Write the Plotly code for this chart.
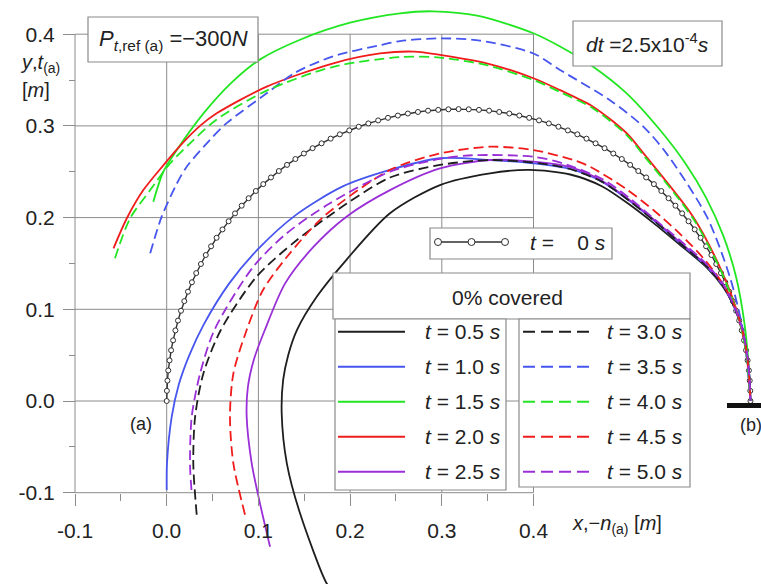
import plotly.graph_objects as go

W, H = 761, 584
FONT = "Liberation Sans, Arial, sans-serif"
TXT = "#222222"
GRID = "#8c8c8c"

# ---------------- data (x, y in m) ----------------
T00_X = [0.0000, 0.0002, 0.0008, 0.0017, 0.0031, 0.0048, 0.0070, 0.0095, 0.0123, 0.0156,
         0.0192, 0.0232, 0.0275, 0.0322, 0.0373, 0.0426, 0.0484, 0.0544, 0.0608, 0.0675,
         0.0745, 0.0818, 0.0893, 0.0972, 0.1053, 0.1137, 0.1223, 0.1312, 0.1403, 0.1496,
         0.1591, 0.1689, 0.1788, 0.1888, 0.1991, 0.2094, 0.2199, 0.2306, 0.2413, 0.2521,
         0.2630, 0.2740, 0.2850, 0.2961, 0.3072, 0.3183, 0.3294, 0.3405, 0.3516, 0.3626,
         0.3736, 0.3845, 0.3953, 0.4060, 0.4167, 0.4272, 0.4375, 0.4478, 0.4578, 0.4677,
         0.4775, 0.4870, 0.4963, 0.5054, 0.5143, 0.5229, 0.5313, 0.5394, 0.5473, 0.5548,
         0.5621, 0.5691, 0.5758, 0.5822, 0.5882, 0.5940, 0.5993, 0.6044, 0.6091, 0.6134,
         0.6174, 0.6210, 0.6243, 0.6271, 0.6296, 0.6318, 0.6335, 0.6349, 0.6358, 0.6364,
         0.6366]
T00_Y = [0.0000, 0.0111, 0.0222, 0.0333, 0.0443, 0.0553, 0.0662, 0.0770, 0.0877, 0.0984,
         0.1089, 0.1192, 0.1295, 0.1395, 0.1494, 0.1592, 0.1687, 0.1780, 0.1871, 0.1960,
         0.2046, 0.2130, 0.2211, 0.2290, 0.2365, 0.2438, 0.2508, 0.2575, 0.2639, 0.2699,
         0.2757, 0.2810, 0.2861, 0.2908, 0.2951, 0.2991, 0.3027, 0.3060, 0.3088, 0.3113,
         0.3135, 0.3152, 0.3166, 0.3175, 0.3181, 0.3183, 0.3181, 0.3175, 0.3166, 0.3152,
         0.3135, 0.3113, 0.3088, 0.3060, 0.3027, 0.2991, 0.2951, 0.2908, 0.2861, 0.2810,
         0.2757, 0.2699, 0.2639, 0.2575, 0.2508, 0.2438, 0.2365, 0.2290, 0.2211, 0.2130,
         0.2046, 0.1960, 0.1871, 0.1780, 0.1687, 0.1592, 0.1494, 0.1395, 0.1295, 0.1192,
         0.1089, 0.0984, 0.0877, 0.0770, 0.0662, 0.0553, 0.0443, 0.0333, 0.0222, 0.0111,
         0.0000]

T05_X = [0.180, 0.1745, 0.1454, 0.131, 0.1254, 0.127, 0.1325, 0.142, 0.1636, 0.196, 0.2435, 0.298,
         0.3526, 0.396, 0.44, 0.475, 0.505, 0.531, 0.560, 0.589, 0.607, 0.620, 0.628, 0.633, 0.6355, 0.6366]
T05_Y = [-0.205, -0.199, -0.1225, -0.068, -0.0134, 0.023, 0.050, 0.0774, 0.1137, 0.154, 0.2047, 0.2355,
         0.2483, 0.252, 0.247, 0.234, 0.214, 0.194, 0.170, 0.1455, 0.124, 0.100, 0.077, 0.050, 0.025, 0.0]

T10_X = [0.0, 0.0003, 0.0055, 0.0132, 0.0247, 0.0402, 0.068, 0.099, 0.141, 0.192, 0.2435, 0.298,
         0.3526, 0.40, 0.44, 0.475, 0.505, 0.531, 0.560, 0.589, 0.607, 0.620, 0.628, 0.633, 0.6355, 0.6366]
T10_Y = [-0.097, -0.068, -0.017, 0.018, 0.050, 0.083, 0.128, 0.165, 0.203, 0.234, 0.252, 0.2647,
         0.2628, 0.2592, 0.253, 0.239, 0.218, 0.197, 0.172, 0.1465, 0.125, 0.100, 0.077, 0.050, 0.025, 0.0]

T15_X = [-0.0146, -0.0037, 0.011, 0.041, 0.071, 0.101, 0.1454, 0.20, 0.2545, 0.29, 0.34, 0.40,
         0.429, 0.465, 0.5016, 0.538, 0.565, 0.588, 0.607, 0.621, 0.630, 0.6345, 0.6366]
T15_Y = [0.2174, 0.250, 0.2737, 0.3147, 0.3475, 0.372, 0.394, 0.4125, 0.4228, 0.425, 0.420, 0.401,
         0.3865, 0.3646, 0.3355, 0.2955, 0.260, 0.222, 0.180, 0.135, 0.085, 0.040, 0.0]

T20_X = [-0.058, -0.0436, -0.0255, -0.0037, 0.018, 0.0363, 0.0545, 0.109, 0.1817, 0.2326, 0.27,
         0.298, 0.35, 0.40, 0.429, 0.465, 0.5016, 0.52, 0.574, 0.603, 0.6215, 0.6316, 0.6366]
T20_Y = [0.1665, 0.199, 0.230, 0.257, 0.282, 0.300, 0.3137, 0.3428, 0.3683, 0.379, 0.381,
         0.3775, 0.368, 0.352, 0.339, 0.321, 0.292, 0.270, 0.201, 0.1465, 0.099, 0.056, 0.0]

T25_X = [0.1127, 0.1017, 0.0927, 0.0872, 0.0885, 0.095, 0.107, 0.129, 0.16, 0.196, 0.2435, 0.298, 0.3526,
         0.40, 0.44, 0.475, 0.505, 0.531, 0.560, 0.589, 0.607, 0.620, 0.628, 0.633, 0.6355, 0.6366]
T25_Y = [-0.159, -0.1116, -0.068, -0.017, 0.015, 0.045, 0.0774, 0.128, 0.168, 0.201, 0.230, 0.2537, 0.2628,
         0.261, 0.255, 0.240, 0.219, 0.198, 0.173, 0.1475, 0.126, 0.101, 0.077, 0.050, 0.025, 0.0]

T30_X = [0.0327, 0.029, 0.031, 0.040, 0.059, 0.098, 0.142, 0.196, 0.2435, 0.298, 0.3526, 0.407,
         0.44, 0.475, 0.505, 0.531, 0.560, 0.589, 0.607, 0.620, 0.628, 0.633, 0.6355, 0.6366]
T30_Y = [-0.124, -0.068, -0.017, 0.030, 0.0774, 0.1356, 0.1756, 0.215, 0.2437, 0.2574, 0.2628, 0.2592,
         0.253, 0.239, 0.218, 0.197, 0.172, 0.1465, 0.125, 0.100, 0.077, 0.050, 0.025, 0.0]

T35_X = [-0.018, -0.0055, 0.011, 0.0218, 0.047, 0.0654, 0.109, 0.14, 0.1817, 0.2326, 0.2545, 0.298,
         0.3417, 0.40, 0.429, 0.4834, 0.52, 0.545, 0.589, 0.614, 0.629, 0.6366]
T35_Y = [0.161, 0.201, 0.237, 0.2555, 0.2846, 0.303, 0.3355, 0.358, 0.376, 0.388, 0.3925, 0.3955,
         0.393, 0.379, 0.361, 0.328, 0.299, 0.270, 0.201, 0.1356, 0.074, 0.0]

T40_X = [-0.0564, -0.040, -0.018, 0.0036, 0.0254, 0.0545, 0.109, 0.1817, 0.2545, 0.298, 0.35, 0.40,
         0.429, 0.465, 0.5016, 0.52, 0.574, 0.603, 0.6215, 0.6316, 0.6366]
T40_Y = [0.1556, 0.199, 0.230, 0.259, 0.281, 0.307, 0.3385, 0.3645, 0.375, 0.3745, 0.366, 0.350,
         0.337, 0.319, 0.290, 0.268, 0.199, 0.145, 0.098, 0.055, 0.0]

T45_X = [0.0854, 0.0727, 0.069, 0.0727, 0.0872, 0.105, 0.131, 0.171, 0.2435, 0.298, 0.3526, 0.40,
         0.4434, 0.4616, 0.50, 0.531, 0.560, 0.585, 0.605, 0.620, 0.630, 0.6345, 0.6366]
T45_Y = [-0.124, -0.068, -0.017, 0.030, 0.0774, 0.121, 0.157, 0.201, 0.252, 0.270, 0.2773, 0.2737,
         0.2628, 0.2555, 0.232, 0.208, 0.182, 0.156, 0.130, 0.102, 0.068, 0.035, 0.0]

T50_X = [0.027, 0.0254, 0.0273, 0.0364, 0.052, 0.0945, 0.131, 0.178, 0.2435, 0.298, 0.334, 0.40,
         0.4325, 0.475, 0.505, 0.531, 0.560, 0.589, 0.607, 0.620, 0.628, 0.633, 0.6355, 0.6366]
T50_Y = [-0.097, -0.068, -0.017, 0.030, 0.0774, 0.1465, 0.183, 0.2156, 0.25, 0.264, 0.268, 0.2664,
         0.259, 0.242, 0.221, 0.199, 0.175, 0.149, 0.127, 0.101, 0.077, 0.050, 0.025, 0.0]

TIMES = ["0.5", "1.0", "1.5", "2.0", "2.5", "3.0", "3.5", "4.0", "4.5", "5.0"]
SERIES_X = [T05_X, T10_X, T15_X, T20_X, T25_X, T30_X, T35_X, T40_X, T45_X, T50_X]
SERIES_Y = [T05_Y, T10_Y, T15_Y, T20_Y, T25_Y, T30_Y, T35_Y, T40_Y, T45_Y, T50_Y]
COLORS = ["#1e1e1e", "#4656ee", "#22e622", "#f01c1c", "#9a2fd8"] * 2
DASHES = ["solid"] * 5 + ["10px,5px"] * 5

X_TICKS = [-0.1, 0.0, 0.1, 0.2, 0.3, 0.4]
X_TICKTEXT = ["-0.1", "0.0", "0.1", "0.2", "0.3", "0.4"]
X_MINOR = [-0.05, 0.05, 0.15, 0.25, 0.35]
Y_TICKS = [-0.1, 0.0, 0.1, 0.2, 0.3, 0.4]
Y_TICKTEXT = ["-0.1", "0.0", "0.1", "0.2", "0.3", "0.4"]
Y_MINOR = [-0.05, 0.05, 0.15, 0.25, 0.35]

# ---------------- figure ----------------
X_RANGE = [-0.18179, 0.64809]
Y_RANGE = [-0.19956, 0.43730]


def frac(v, r):
    return (v - r[0]) / (r[1] - r[0])


def PX(x):
    return x / W


def PY(y):
    return 1 - y / H


fig = go.Figure()

fig.add_trace(go.Scatter(
    x=T00_X, y=T00_Y, mode="lines+markers",
    line=dict(color="#303030", width=1.4),
    marker=dict(symbol="circle", size=5, color="white", line=dict(color="#303030", width=1)),
    hoverinfo="skip"))

for xs, ys, c, d in zip(SERIES_X, SERIES_Y, COLORS, DASHES):
    fig.add_trace(go.Scatter(x=xs, y=ys, mode="lines",
                             line=dict(color=c, width=1.8, dash=d, shape="spline", smoothing=0.8),
                             hoverinfo="skip"))

shapes = []
# grid (data coordinates), limited to the tick span
for v in X_TICKS:
    shapes.append(dict(type="line", xref="x", yref="y", x0=v, x1=v,
                       y0=Y_TICKS[0], y1=Y_TICKS[-1], layer="below",
                       line=dict(color=GRID, width=1)))
for v in Y_TICKS:
    shapes.append(dict(type="line", xref="x", yref="y", y0=v, y1=v,
                       x0=X_TICKS[0], x1=X_TICKS[-1], layer="below",
                       line=dict(color=GRID, width=1)))


def rect(x0, y0, x1, y1):
    shapes.append(dict(type="rect", xref="paper", yref="paper",
                       x0=PX(x0), x1=PX(x1), y0=PY(y1), y1=PY(y0),
                       line=dict(color="#8a8a8a", width=1.2), fillcolor="white",
                       layer="above"))


def seg(x0, y0, x1, y1, color, width=2, dash="solid"):
    shapes.append(dict(type="line", xref="paper", yref="paper",
                       x0=PX(x0), x1=PX(x1), y0=PY(y0), y1=PY(y1),
                       line=dict(color=color, width=width, dash=dash), layer="above"))


# support at (b)
seg(727, 405.5, 761, 405.5, "#111111", width=5)

# boxes
rect(88, 17, 258, 62)        # P box
rect(573, 21, 722, 66)       # dt box
rect(430, 228, 612, 259)     # t = 0 box
rect(333, 273, 690, 319)     # header
rect(335, 319, 506, 490)     # left column
rect(519, 319, 690, 487)     # right column

# t = 0 legend sample
seg(438, 242, 505, 242, "#303030", width=1.5)
for cx in (438, 471.5, 505):
    shapes.append(dict(type="circle", xref="paper", yref="paper",
                       x0=PX(cx - 3.5), x1=PX(cx + 3.5), y0=PY(242 + 3.5), y1=PY(242 - 3.5),
                       line=dict(color="#303030", width=1), fillcolor="white", layer="above"))

annotations = []


def text(x, y, s, size=21, xanchor="center"):
    annotations.append(dict(xref="paper", yref="paper", x=PX(x), y=PY(y), text=s,
                            showarrow=False, xanchor=xanchor, yanchor="middle",
                            font=dict(family=FONT, size=size, color=TXT)))


ROWS = [331.7, 366.7, 401.7, 436.7, 471.7]
for i, (t, c, d) in enumerate(zip(TIMES, COLORS, DASHES)):
    col = i // 5
    ry = ROWS[i % 5]
    if col == 0:
        seg(338, ry, 405, ry, c, width=2, dash=("solid" if d == "solid" else "12px,6px"))
        text(503, ry, "<i>t</i> = " + t + " <i>s</i>", xanchor="right")
    else:
        seg(523, ry, 589, ry, c, width=2, dash=("solid" if d == "solid" else "12px,6px"))
        text(685, ry, "<i>t</i> = " + t + " <i>s</i>", xanchor="right")

text(507, 297, "0% covered")
text(608, 242, "<i>t</i> =\u00a0\u00a0\u00a0 0 <i>s</i>", xanchor="right")
text(173, 40, "<i>P</i><sub><i>t</i>,ref (a)</sub> =\u2212300<i>N</i>", size=22)
text(647, 43, "<i>dt</i> =2.5x10<sup>-4</sup><i>s</i>")
text(40, 63, "<i>y</i>,<i>t</i><sub>(a)</sub>", size=20)
text(36, 90, "[<i>m</i>]", size=20)
text(617, 524, "<i>x</i>,\u2212<i>n</i><sub>(a)</sub> [<i>m</i>]", size=20)
text(141, 424, "(a)", size=18)
text(751, 425, "(b)", size=18)

fig.update_layout(
    width=W, height=H,
    margin=dict(l=0, r=0, t=0, b=0, pad=0),
    paper_bgcolor="white", plot_bgcolor="white",
    showlegend=False,
    shapes=shapes, annotations=annotations,
    xaxis=dict(range=X_RANGE, anchor="free", position=frac(Y_TICKS[0], Y_RANGE),
               showgrid=False, zeroline=False, showline=False,
               tickmode="array", tickvals=X_TICKS, ticktext=X_TICKTEXT,
               ticks="outside", ticklen=12, tickwidth=1, tickcolor=GRID,
               ticklabelstandoff=7,
               minor=dict(tickmode="array", tickvals=X_MINOR, ticks="outside",
                          ticklen=7, tickwidth=1, tickcolor=GRID),
               tickfont=dict(family=FONT, size=21, color=TXT),
               automargin=False, fixedrange=True),
    yaxis=dict(range=Y_RANGE, anchor="free", position=frac(X_TICKS[0], X_RANGE),
               showgrid=False, zeroline=False, showline=False,
               tickmode="array", tickvals=Y_TICKS, ticktext=Y_TICKTEXT,
               ticks="outside", ticklen=12, tickwidth=1, tickcolor=GRID,
               ticklabelstandoff=4,
               minor=dict(tickmode="array", tickvals=Y_MINOR, ticks="outside",
                          ticklen=6, tickwidth=1, tickcolor=GRID),
               tickfont=dict(family=FONT, size=21, color=TXT),
               automargin=False, fixedrange=True),
)

fig.write_html("out.html", config={"displayModeBar": False, "staticPlot": True},
               post_script="document.body.style.margin='0px';")
